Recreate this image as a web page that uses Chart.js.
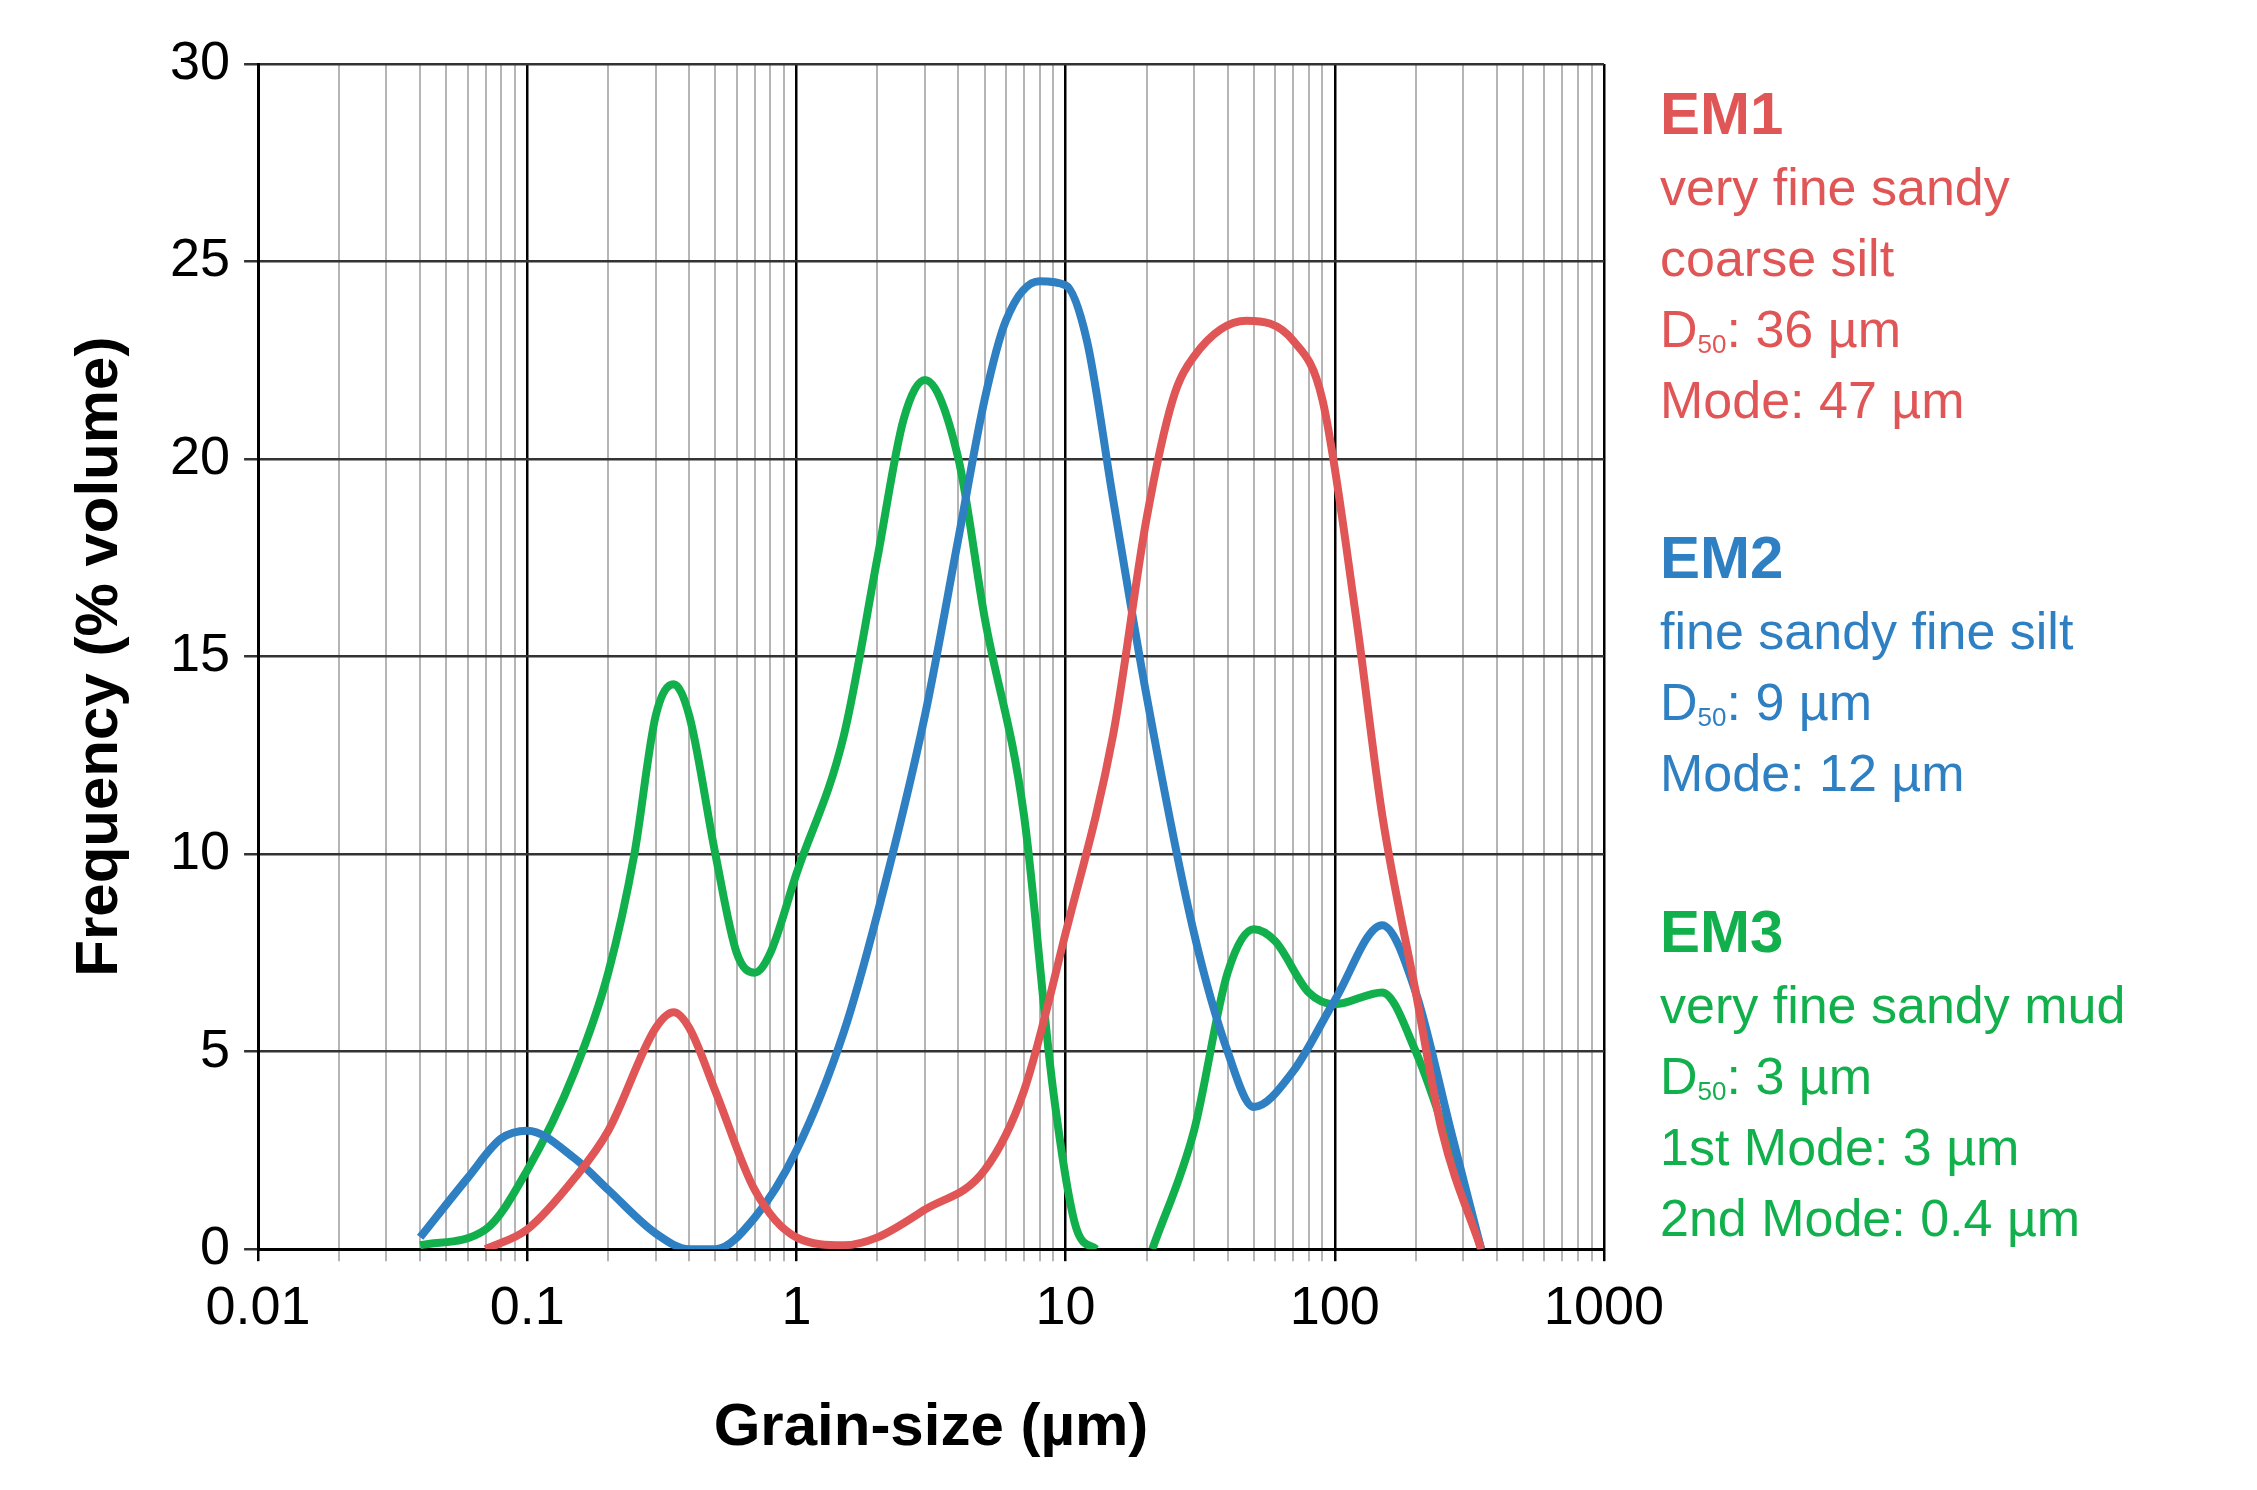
<!DOCTYPE html>
<html><head><meta charset="utf-8">
<script src="https://cdn.jsdelivr.net/npm/chart.js@4/dist/chart.umd.min.js"></script>
<style>
body{margin:0;background:#fff;font-family:Arial,"Liberation Sans",sans-serif;}
#wrap{position:absolute;left:0;top:0;width:1680px;height:1490px;}
.lbl{position:absolute;left:1660px;font-size:52px;line-height:71px;}
.lbl b{font-size:60px;}
sub{font-size:26px;vertical-align:-6px;line-height:0;}
</style></head><body>
<div id="wrap"><canvas id="c"></canvas></div>
<div class="lbl" style="top:78px;color:#e05656"><b>EM1</b><br>very fine sandy<br>coarse silt<br>D<sub>50</sub>: 36 µm<br>Mode: 47 µm</div>
<div class="lbl" style="top:522px;color:#2f80c3"><b>EM2</b><br>fine sandy fine silt<br>D<sub>50</sub>: 9 µm<br>Mode: 12 µm</div>
<div class="lbl" style="top:896px;color:#12b04c"><b>EM3</b><br>very fine sandy mud<br>D<sub>50</sub>: 3 µm<br>1st Mode: 3 µm<br>2nd Mode: 0.4 µm</div>
<script>
const em1X = [0.07,0.1,0.15,0.2,0.3,0.35,0.4,0.5,0.7,1,1.5,2,3,5,7,10,15,20,25,30,47,70,90,120,150,200,250,350];
const em1Y = [0,0.5,1.8,3,5.6,6,5.6,4,1.5,0.3,0.1,0.3,1,2,4,8,13,18.5,21.5,22.6,23.5,23,21.5,16,11,6.5,3,0];
const em2X = [0.04,0.06,0.08,0.1,0.15,0.2,0.3,0.4,0.5,0.7,1,1.5,2,3,4,5,6,8,10,12,15,20,30,40,50,70,100,150,200,270,350];
const em2Y = [0.3,1.8,2.8,3,2.3,1.5,0.4,0,0,0.8,2.5,5.5,8.5,13.5,18,21.5,23.5,24.5,24.4,23,19,14,8,5,3.6,4.5,6.3,8.2,6.5,3,0];
const em3X = [0.04,0.07,0.1,0.15,0.2,0.25,0.3,0.35,0.4,0.5,0.6,0.7,0.8,1,1.5,2,2.5,3,4,5,7,9,11,13,17,21,30,40,50,60,80,100,150,200,270,350];
const em3Y = [0.1,0.5,2,4.5,7,10,13.5,14.3,13.5,10,7.5,7,7.5,9.5,13,17.5,21,22,20,16,11,4,0.5,0,null,0,3,7,8.1,7.8,6.5,6.2,6.5,5,2.5,0];
const xTicks = [0.01,0.1,1,10,100,1000];
const yTicks = [0,5,10,15,20,25,30];

const pts = (xs, ys) => xs.map((x,i) => ({x:x, y:ys[i]}));
const ds = (data, color) => ({data, borderColor:color, borderWidth:8, pointRadius:0, fill:false, cubicInterpolationMode:'monotone', spanGaps:false});

const isMajor = v => xTicks.some(t => Math.abs(Math.log10(v) - Math.log10(t)) < 1e-6);

new Chart(document.getElementById('c'), {
  type:'line',
  data:{datasets:[ds(pts(em1X,em1Y),'#e05656'), ds(pts(em2X,em2Y),'#2f80c3'), ds(pts(em3X,em3Y),'#12b04c')]},
  options:{
    responsive:true, maintainAspectRatio:false, animation:false,
    layout:{padding:{left:60,right:70,top:64,bottom:22}},
    plugins:{legend:{display:false}, tooltip:{enabled:false}},
    scales:{
      x:{type:'logarithmic', min:0.01, max:1000,
        afterBuildTicks:ax => {
          const t=[];
          for (let d=0.01; d<1000; d*=10) for (let k=1;k<10;k++) t.push({value:+(d*k).toPrecision(3)});
          t.push({value:1000});
          ax.ticks=t;
        },
        ticks:{autoSkip:false, maxRotation:0, color:'#000', font:{size:54,family:'Arial'}, padding:16,
          callback:v => isMajor(v) ? String(v) : ''},
        grid:{color:ctx => isMajor(ctx.tick.value) ? '#000' : '#b5b5b5', lineWidth:ctx => isMajor(ctx.tick.value)?2.5:2, drawTicks:true, tickLength:12},
        border:{color:'#000', width:3},
        title:{display:true, text:'Grain-size (µm)', color:'#000', font:{size:60,weight:'bold',family:'Arial'}, padding:{top:34}}
      },
      y:{min:0, max:30,
        afterBuildTicks:ax => { ax.ticks = yTicks.map(v => ({value:v})); },
        ticks:{color:'#000', font:{size:54,family:'Arial'}, padding:14},
        grid:{color:'#333', lineWidth:2.5, tickLength:14},
        border:{color:'#000', width:3},
        title:{display:true, text:'Frequency (% volume)', color:'#000', font:{size:60,weight:'bold',family:'Arial'}, padding:{bottom:20}}
      }
    }
  }
});
</script></body></html>
